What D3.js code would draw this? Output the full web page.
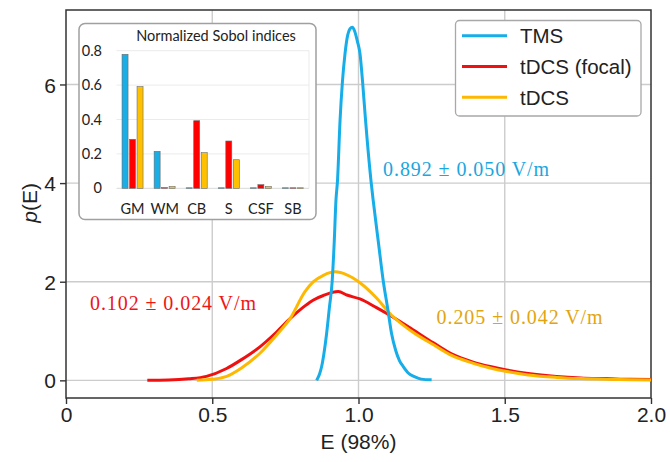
<!DOCTYPE html>
<html>
<head>
<meta charset="utf-8">
<script src="https://d3js.org/d3.v7.min.js"></script>
<style>
  body { margin: 0; background: #fff; }
  svg { display: block; }
</style>
</head>
<body>
<div id="chart"></div>
<script>
// density curves: [E, p(E)]
var tmsCurve = [
  [0.857, 0], [0.862, 0.06], [0.868, 0.15], [0.874, 0.28], [0.882, 0.55], [0.891, 0.95],
  [0.900, 1.45], [0.910, 2.01], [0.917, 2.8], [0.923, 3.66], [0.928, 4.03], [0.937, 5.28],
  [0.945, 6.05], [0.954, 6.63], [0.963, 7.0], [0.971, 7.13], [0.979, 7.16], [0.987, 7.08],
  [0.996, 6.88], [1.005, 6.63], [1.014, 6.05], [1.024, 5.28], [1.043, 4.03], [1.050, 3.66],
  [1.068, 2.8], [1.085, 2.0], [1.100, 1.45], [1.113, 0.95], [1.127, 0.61], [1.140, 0.40],
  [1.153, 0.28], [1.170, 0.15], [1.193, 0.07], [1.215, 0.025], [1.25, 0.01]
];
var focalCurve = [
  [0.278, 0], [0.35, 0.005], [0.42, 0.03], [0.48, 0.08], [0.549, 0.24], [0.60, 0.42],
  [0.663, 0.68], [0.72, 0.98], [0.766, 1.25], [0.817, 1.51], [0.846, 1.63], [0.88, 1.72],
  [0.931, 1.80], [0.96, 1.73], [1.005, 1.65], [1.06, 1.48], [1.113, 1.30], [1.18, 1.05],
  [1.256, 0.76], [1.32, 0.53], [1.392, 0.37], [1.45, 0.28], [1.506, 0.21], [1.58, 0.14],
  [1.677, 0.08], [1.76, 0.05], [1.848, 0.035], [1.93, 0.02], [2.0, 0.015]
];
var tdcsCurve = [
  [0.447, 0], [0.50, 0.02], [0.549, 0.08], [0.60, 0.25], [0.663, 0.55], [0.72, 0.92],
  [0.766, 1.25], [0.817, 1.80], [0.846, 2.0], [0.88, 2.13], [0.92, 2.20], [0.96, 2.14],
  [1.005, 1.98], [1.06, 1.68], [1.113, 1.32], [1.18, 1.0], [1.262, 0.70], [1.32, 0.50],
  [1.39, 0.35], [1.45, 0.25], [1.506, 0.18], [1.58, 0.11], [1.677, 0.06], [1.76, 0.035],
  [1.848, 0.02], [1.93, 0.012], [2.0, 0.008]
];

var seriesNames = ["TMS", "tDCS (focal)", "tDCS"];
var lineColors = ["#16ade9", "#f01010", "#ffb800"];
var textColors = ["#1ba6e0", "#ee1515", "#e2a510"];
var annotations = ["0.892 \u00b1 0.050 V/m", "0.102 \u00b1 0.024 V/m", "0.205 \u00b1 0.042 V/m"];

var xTicks = [0, 0.5, 1.0, 1.5, 2.0];
var xTickLabels = ["0", "0.5", "1.0", "1.5", "2.0"];
var yTicks = [0, 2, 4, 6];

// inset: normalized Sobol indices
var tissues = ["GM", "WM", "CB", "S", "CSF", "SB"];
var sobolTMS = [0.779, 0.215, 0.003, 0.003, 0.003, 0.003];
var sobolFocal = [0.285, 0.004, 0.393, 0.275, 0.021, 0.003];
var sobolTDCS = [0.591, 0.010, 0.207, 0.166, 0.010, 0.003];
var insetTicks = [0, 0.2, 0.4, 0.6, 0.8];
var insetTickLabels = ["0", "0.2", "0.4", "0.6", "0.8"];
var barColors = ["#1aaee6", "#ff0000", "#ffc000"];

var width = 670, height = 462;
var plot = { left: 66, right: 651, top: 10, bottom: 398 };

var svg = d3.select("#chart").append("svg")
  .attr("width", width)
  .attr("height", height);

svg.append("rect").attr("width", width).attr("height", height).attr("fill", "#fff");

var x = d3.scaleLinear().domain([0, 2]).range([plot.left, plot.right]);
var y = d3.scaleLinear().domain([-0.358, 7.51]).range([plot.bottom, plot.top]);

// grid
svg.append("g")
  .selectAll("line.gx")
  .data(xTicks.slice(1, 4))
  .enter().append("line")
  .attr("x1", function(d) { return x(d); })
  .attr("x2", function(d) { return x(d); })
  .attr("y1", plot.top).attr("y2", plot.bottom)
  .attr("stroke", "#cccccc").attr("stroke-width", 1.4);
svg.append("g")
  .selectAll("line.gy")
  .data(yTicks)
  .enter().append("line")
  .attr("x1", plot.left).attr("x2", plot.right)
  .attr("y1", function(d) { return y(d); })
  .attr("y2", function(d) { return y(d); })
  .attr("stroke", "#cccccc").attr("stroke-width", 1.4);

// axes
var xAxis = svg.append("g")
  .attr("transform", "translate(0," + plot.bottom + ")")
  .call(d3.axisBottom(x).tickValues(xTicks).tickSize(6).tickPadding(3)
    .tickFormat(function(d, i) { return xTickLabels[i]; }));
var yAxis = svg.append("g")
  .attr("transform", "translate(" + plot.left + ",0)")
  .call(d3.axisLeft(y).tickValues(yTicks).tickSize(6).tickPadding(4).tickFormat(d3.format("d")));

[xAxis, yAxis].forEach(function(ax) {
  ax.select(".domain").remove();
  ax.selectAll(".tick line").attr("stroke", "#333").attr("stroke-width", 1.4);
  ax.selectAll(".tick text")
    .attr("fill", "#222")
    .style("font-family", "'Liberation Sans', Arial, sans-serif")
    .style("font-size", "21px");
});
xAxis.selectAll(".tick text").attr("dy", "0.72em");
yAxis.selectAll(".tick text").attr("dy", "0.36em");

svg.append("rect")
  .attr("x", plot.left).attr("y", plot.top)
  .attr("width", plot.right - plot.left).attr("height", plot.bottom - plot.top)
  .attr("fill", "none").attr("stroke", "#333").attr("stroke-width", 1.5);

svg.append("text")
  .attr("x", x(1.0)).attr("y", 449)
  .attr("text-anchor", "middle")
  .style("font-family", "'Liberation Sans', Arial, sans-serif")
  .style("font-size", "21px").attr("fill", "#222")
  .text("E (98%)");

var yl = svg.append("text")
  .attr("transform", "translate(37," + y(3.6) + ") rotate(-90)")
  .attr("text-anchor", "middle")
  .style("font-family", "'Liberation Sans', Arial, sans-serif")
  .style("font-size", "21px").attr("fill", "#222");
yl.append("tspan").style("font-style", "italic").text("p");
yl.append("tspan").text("(E)");

// curves
svg.append("clipPath").attr("id", "clip")
  .append("rect")
  .attr("x", plot.left).attr("y", plot.top)
  .attr("width", plot.right - plot.left).attr("height", plot.bottom - plot.top);

var line = d3.line()
  .x(function(d) { return x(d[0]); })
  .y(function(d) { return y(d[1]); })
  .curve(d3.curveMonotoneX);

var curves = [tmsCurve, focalCurve, tdcsCurve];
var drawOrder = [1, 2, 0];
drawOrder.forEach(function(i) {
  svg.append("path")
    .datum(curves[i])
    .attr("clip-path", "url(#clip)")
    .attr("d", line)
    .attr("fill", "none")
    .attr("stroke", lineColors[i])
    .attr("stroke-width", 3)
    .attr("stroke-linejoin", "round");
});

// annotations (data coords of the text's left baseline)
var annPos = [[1.084, 4.15], [0.082, 1.43], [1.267, 1.14]];
annotations.forEach(function(t, i) {
  svg.append("text")
    .attr("x", x(annPos[i][0])).attr("y", y(annPos[i][1]))
    .attr("fill", textColors[i])
    .attr("textLength", 166)
    .attr("lengthAdjust", "spacing")
    .style("font-family", "'Liberation Serif', 'Times New Roman', serif")
    .style("font-size", "20px")
    .text(t);
});

// legend
var lg = svg.append("g");
lg.append("rect")
  .attr("x", 455.5).attr("y", 20.5).attr("width", 185.5).attr("height", 95.5)
  .attr("rx", 4).attr("fill", "#fff").attr("stroke", "#a8a8a8").attr("stroke-width", 1.3);
seriesNames.forEach(function(name, i) {
  var yy = 35.7 + i * 30.8;
  lg.append("line")
    .attr("x1", 462).attr("x2", 507).attr("y1", yy).attr("y2", yy)
    .attr("stroke", lineColors[i]).attr("stroke-width", 3);
  lg.append("text")
    .attr("x", 520).attr("y", yy + 7.5)
    .attr("fill", "#222")
    .style("font-family", "'Liberation Sans', Arial, sans-serif")
    .style("font-size", "20.5px")
    .text(name);
});

// inset bar chart
var inset = svg.append("g");
inset.append("rect")
  .attr("x", 79).attr("y", 23.5).attr("width", 237).attr("height", 196)
  .attr("rx", 6).attr("fill", "#fff").attr("stroke", "#a0a0a0").attr("stroke-width", 1.5);

var ix = d3.scaleBand().domain(tissues).range([116.5, 309]).padding(0);
var ixs = d3.scaleBand().domain([0, 1, 2]).range([-10.5, 10.5]).paddingInner(0.2);
var iy = d3.scaleLinear().domain([0, 0.8]).range([188.3, 50.7]);

inset.selectAll("line.ig")
  .data(insetTicks.slice(1))
  .enter().append("line")
  .attr("x1", 116.5).attr("x2", 309)
  .attr("y1", function(d) { return iy(d); })
  .attr("y2", function(d) { return iy(d); })
  .attr("stroke", "#ebebeb").attr("stroke-width", 1);
inset.append("line")
  .attr("x1", 309).attr("x2", 309).attr("y1", iy(0.8)).attr("y2", iy(0))
  .attr("stroke", "#ebebeb").attr("stroke-width", 1);
inset.append("line")
  .attr("x1", 116.5).attr("x2", 309).attr("y1", iy(0)).attr("y2", iy(0))
  .attr("stroke", "#d9d9d9").attr("stroke-width", 1);

var sobol = [sobolTMS, sobolFocal, sobolTDCS];
sobol.forEach(function(vals, s) {
  inset.selectAll("rect.b" + s)
    .data(vals)
    .enter().append("rect")
    .attr("x", function(d, i) { return ix(tissues[i]) + ix.bandwidth() / 2 + ixs(s); })
    .attr("y", function(d) { return iy(d); })
    .attr("width", ixs.bandwidth())
    .attr("height", function(d) { return iy(0) - iy(d); })
    .attr("fill", barColors[s])
    .attr("stroke", "#6b6b6b").attr("stroke-width", 0.6);
});

inset.selectAll("text.iyl")
  .data(insetTicks)
  .enter().append("text")
  .attr("x", 102).attr("y", function(d) { return iy(d) + 5; })
  .attr("text-anchor", "end")
  .attr("fill", "#222")
  .style("font-family", "Lato, 'Open Sans', sans-serif")
  .style("font-size", "14.5px")
  .text(function(d, i) { return insetTickLabels[i]; });

inset.selectAll("text.ixl")
  .data(tissues)
  .enter().append("text")
  .attr("x", function(d) { return ix(d) + ix.bandwidth() / 2; })
  .attr("y", 214)
  .attr("text-anchor", "middle")
  .attr("fill", "#222")
  .style("font-family", "Lato, 'Open Sans', sans-serif")
  .style("font-size", "14.5px")
  .text(function(d) { return d; });

inset.append("text")
  .attr("x", 216).attr("y", 41)
  .attr("text-anchor", "middle")
  .attr("fill", "#222")
  .style("font-family", "Lato, 'Open Sans', sans-serif")
  .style("font-size", "14.5px")
  .text("Normalized Sobol indices");
</script>
</body>
</html>
